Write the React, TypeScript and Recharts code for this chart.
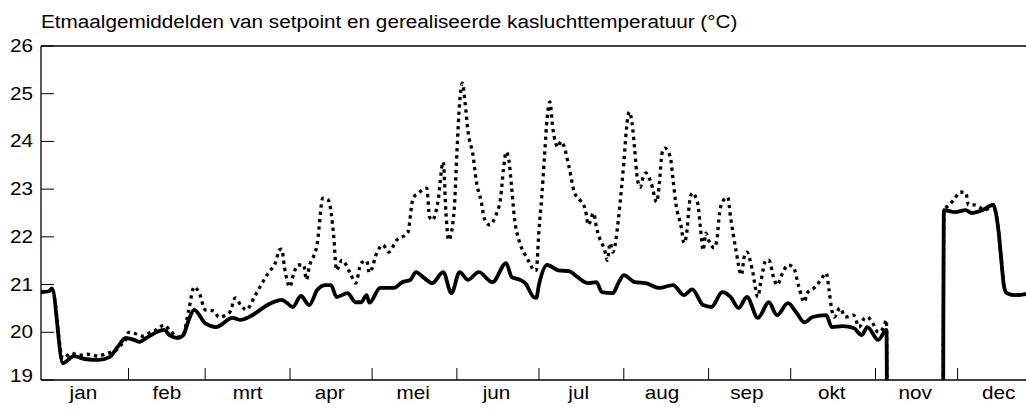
import { LineChart, Line, XAxis, YAxis, ReferenceLine } from 'recharts';

const TITLE = 'Etmaalgemiddelden van setpoint en gerealiseerde kasluchttemperatuur (°C)';

const months = ['jan', 'feb', 'mrt', 'apr', 'mei', 'jun', 'jul', 'aug', 'sep', 'okt', 'nov', 'dec'];
const monthBounds = [31, 59, 90, 120, 151, 181, 212, 243, 273, 304, 334];
const monthMids = [14.5, 45, 74.5, 104.5, 135, 165.5, 195.5, 226, 257, 288, 318.5, 349];
const yTicks = [19, 20, 21, 22, 23, 24, 25, 26];

// setpoint (solid), day of year -> degC; 0 = no data in nov
const setpointDays = [
  -1, 2, 3, 7, 11, 15, 20, 24, 27, 30, 33, 35, 38, 44, 46, 49, 51, 53, 55, 59,
  63, 69, 72, 75, 83, 87, 89, 91, 94, 97, 100, 103, 105, 107, 111, 114, 116, 118, 119, 123,
  128, 131, 134, 136, 139, 142, 146, 149, 152, 155, 159, 164, 169, 171, 174, 176, 179, 180, 181, 184,
  188, 192, 195, 199, 202, 204, 208, 210, 212, 216, 220, 225, 230, 234, 237, 241, 244, 248, 251, 254,
  257, 261, 265, 268, 272, 275, 278, 281, 286, 288, 292, 296, 299, 301, 305, 308, 309, 328, 329, 333,
  337, 339, 343, 347, 348, 349, 350, 351, 352, 355, 359,
];
const setpointValues = [
  20.84, 20.86, 20.92, 19.35, 19.5, 19.44, 19.42, 19.48, 19.69, 19.88, 19.84, 19.8, 19.9, 20.05, 19.94, 19.88, 19.94, 20.26, 20.47, 20.19,
  20.11, 20.3, 20.26, 20.32, 20.61, 20.68, 20.61, 20.53, 20.76, 20.57, 20.89, 20.99, 20.99, 20.74, 20.82, 20.63, 20.63, 20.78, 20.62, 20.93,
  20.93, 21.05, 21.1, 21.26, 21.14, 21.03, 21.26, 20.82, 21.26, 21.1, 21.26, 21.05, 21.45, 21.16, 21.1, 21.03, 20.74, 20.72, 21.0, 21.41,
  21.3, 21.28, 21.16, 21.03, 21.05, 20.84, 20.82, 21.03, 21.2, 21.05, 21.03, 20.93, 20.99, 20.78, 20.9, 20.57, 20.53, 20.84, 20.74, 20.51,
  20.74, 20.3, 20.63, 20.36, 20.61, 20.42, 20.21, 20.32, 20.36, 20.11, 20.13, 20.09, 19.94, 20.11, 19.84, 20.05, 0, 0, 22.56, 22.52,
  22.56, 22.5, 22.56, 22.67, 22.5, 22.1, 21.5, 20.95, 20.82, 20.78, 20.8,
];

// gerealiseerd (dotted)
const realizedDays = [
  -1, 2, 3, 7, 10, 13, 16, 20, 23, 26, 28, 30, 31, 33, 36, 39, 41, 44, 46, 49,
  51, 53, 55, 57, 59, 62, 64, 68, 70, 72, 74, 77, 79, 82, 85, 86, 87, 88, 90, 91,
  93, 95, 96, 97, 100, 102, 104, 106, 107, 109, 112, 114, 116, 118, 119, 122, 124, 126, 129, 133,
  135, 137, 140, 141, 142, 144, 146, 147, 148, 150, 151, 152, 153, 154, 155, 157, 158, 160, 161, 163,
  165, 167, 168, 169, 170, 171, 172, 174, 176, 178, 179, 180, 181, 182, 183, 184, 185, 186, 188, 189,
  190, 192, 194, 196, 198, 199, 201, 202, 203, 205, 206, 207, 208, 210, 211, 212, 213, 214, 215, 216,
  217, 218, 219, 220, 222, 224, 225, 226, 227, 229, 230, 231, 233, 234, 235, 236, 237, 239, 240, 241,
  242, 243, 245, 246, 247, 248, 250, 251, 253, 255, 256, 257, 259, 261, 262, 264, 265, 267, 268, 270,
  272, 274, 276, 278, 279, 282, 284, 286, 287, 288, 289, 291, 293, 296, 298, 300, 301, 303, 305, 307,
  308, 309, 328, 329, 331, 333, 335, 337, 338, 340, 342, 344, 347, 348, 349, 350, 351, 352, 355, 359,
];
const realizedValues = [
  20.84, 20.86, 20.92, 19.45, 19.56, 19.52, 19.54, 19.5, 19.56, 19.6, 19.72, 19.85, 20.0, 19.98, 19.92, 20.0, 20.05, 20.15, 20.05, 19.9,
  19.95, 20.47, 20.95, 20.8, 20.47, 20.45, 20.32, 20.42, 20.72, 20.57, 20.47, 20.74, 20.95, 21.24, 21.51, 21.72, 21.74, 21.36, 20.95, 21.16,
  21.41, 21.41, 21.1, 21.36, 21.87, 22.81, 22.77, 22.0, 21.3, 21.51, 21.24, 21.03, 21.45, 21.5, 21.25, 21.7, 21.83, 21.68, 21.93, 22.08,
  22.81, 22.92, 23.02, 22.42, 22.35, 22.71, 23.57, 22.5, 21.93, 22.56, 23.76, 24.81, 25.22, 24.81, 24.24, 23.67, 23.2, 22.71, 22.39, 22.25,
  22.42, 22.83, 23.4, 23.78, 23.61, 23.04, 22.42, 21.87, 21.62, 21.41, 21.3, 21.3, 22.14, 22.83, 23.67, 24.5, 24.83, 24.3, 23.88, 24.0,
  23.92, 23.46, 22.92, 22.77, 22.56, 22.25, 22.5, 22.2, 22.0, 21.72, 21.51, 21.87, 21.68, 22.35, 22.92, 23.55, 24.28, 24.62, 24.39, 23.82,
  23.2, 23.04, 23.23, 23.34, 23.13, 22.73, 23.13, 23.76, 23.86, 23.67, 23.2, 22.71, 22.2, 21.87, 22.08, 22.71, 22.92, 22.71, 22.2, 21.72,
  22.08, 21.93, 21.77, 21.93, 22.5, 22.73, 22.83, 22.42, 21.72, 21.2, 21.58, 21.68, 21.3, 20.74, 21.03, 21.51, 21.51, 21.1, 20.99, 21.24,
  21.41, 21.36, 20.95, 20.63, 20.82, 20.95, 21.1, 21.24, 20.89, 20.47, 20.32, 20.51, 20.32, 20.36, 20.11, 20.3, 20.32, 20.19, 20.0, 20.11,
  20.26, 0, 0, 22.56, 22.67, 22.81, 22.94, 22.92, 22.67, 22.67, 22.62, 22.56, 22.67, 22.5, 22.1, 21.5, 20.95, 20.82, 20.78, 20.8,
];

const setpointData = setpointDays.map((d, i) => ({ day: d, v: setpointValues[i] }));
const realizedData = realizedDays.map((d, i) => ({ day: d, v: realizedValues[i] }));
const xTicks = [...monthBounds, ...monthMids].sort((a, b) => a - b);

const FONT = '"Liberation Sans", Arial, sans-serif';
const SX = 1.15; // text in the source is a bit wide

function YTick(props: any) {
  const { x, y, payload } = props;
  const lift = payload.value === 19 ? -4 : 0;
  return (
    <g>
      <line x1={x + 8} x2={x + 21} y1={y} y2={y} stroke="#000" strokeWidth={1} />
      <text transform={`translate(${x},${y + 6 + lift}) scale(${SX},1)`} textAnchor="end" fontSize={18} fontFamily={FONT} fill="#000">
        {payload.value}
      </text>
    </g>
  );
}

function XTick(props: any) {
  const { x, y, payload } = props;
  const v = payload.value;
  if (monthBounds.includes(v)) {
    return <line x1={x} x2={x} y1={y} y2={y - 12} stroke="#000" strokeWidth={1} />;
  }
  const idx = monthMids.indexOf(v);
  return (
    <text transform={`translate(${x},${y + 19}) scale(${SX},1)`} textAnchor="middle" fontSize={18} fontFamily={FONT} fill="#000">
      {months[idx]}
    </text>
  );
}

export default function App() {
  return (
    <div style={{ position: 'relative', width: 1026, height: 410, background: '#fff' }}>
      <style>{'body{margin:0}'}</style>
      <div
        style={{
          position: 'absolute', left: 41, top: 13, fontSize: 18, lineHeight: '18px', fontFamily: FONT,
          whiteSpace: 'nowrap', transform: `scaleX(${SX})`, transformOrigin: 'left top', color: '#000',
        }}
      >
        {TITLE}
      </div>
      <LineChart width={1026} height={410} margin={{ top: 46, right: 0, bottom: 0, left: 0 }}>
        <XAxis
          type="number"
          dataKey="day"
          domain={[-1, 359]}
          ticks={xTicks}
          interval={0}
          height={30}
          tickSize={0}
          tickMargin={0}
          tickLine={false}
          axisLine={{ stroke: '#000', strokeWidth: 1.3 }}
          tick={(p: any) => <XTick {...p} />}
          allowDataOverflow
        />
        <YAxis
          type="number"
          domain={[19, 26]}
          ticks={yTicks}
          interval={0}
          width={41}
          tickSize={0}
          tickMargin={8}
          tickLine={false}
          axisLine={{ stroke: '#000', strokeWidth: 1.3 }}
          tick={(p: any) => <YTick {...p} />}
          allowDataOverflow
        />
        <ReferenceLine y={26} stroke="#000" strokeWidth={1.3} />
        <Line
          data={realizedData}
          dataKey="v"
          type="monotone"
          stroke="#000"
          strokeWidth={3.3}
          strokeDasharray="3.3 4"
          dot={false}
          isAnimationActive={false}
        />
        <Line
          data={setpointData}
          dataKey="v"
          type="monotone"
          stroke="#000"
          strokeWidth={3.8}
          dot={false}
          isAnimationActive={false}
        />
      </LineChart>
    </div>
  );
}
